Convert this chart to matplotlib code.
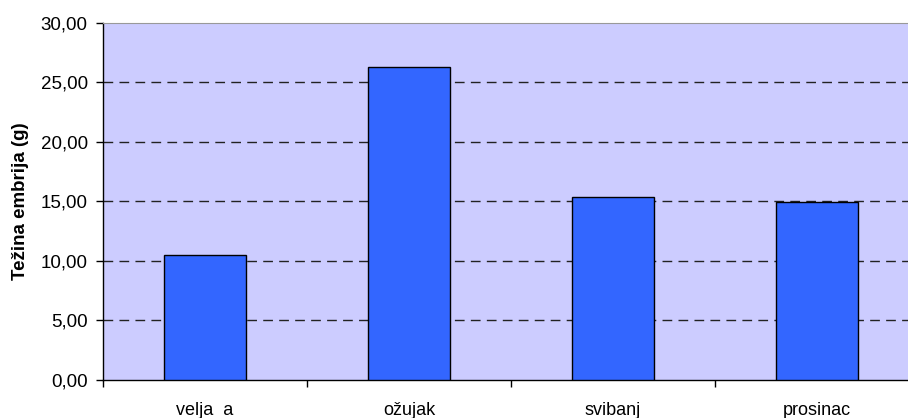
import numpy as np
import matplotlib.pyplot as plt
from matplotlib.ticker import FuncFormatter, FixedLocator

plt.rcParams['font.family'] = ['Liberation Sans', 'DejaVu Sans']

# data
months = ["velja  a", "ožujak", "svibanj", "prosinac"]
weights = [10.5, 26.28, 15.39, 14.97]
yticks = [0, 5, 10, 15, 20, 25, 30]

fig = plt.figure(figsize=(9.08, 4.18), dpi=100)
# plot area runs off the right edge like the original
ax = fig.add_axes([103 / 908, (418 - 380) / 418, 816 / 908, 357.5 / 418])

x = np.arange(len(months))
ax.set_facecolor("#CCCCFF")
ax.bar(x, weights, width=0.4, color="#3366FF", edgecolor="black", linewidth=1, zorder=3)

ax.set_xlim(-0.5, len(months) - 0.5)
ax.set_ylim(0, 30)
ax.set_yticks(yticks)
ax.yaxis.set_major_formatter(FuncFormatter(lambda v, p: f"{v:.2f}".replace(".", ",")))
for v in yticks[1:-1]:
    ax.axhline(v, color="#222222", linestyle=(0, (7, 4.5)), linewidth=1, zorder=1)

# boundaries get ticks, labels sit at the centres
ax.xaxis.set_major_locator(FixedLocator(np.arange(len(months) + 1) - 0.5))
ax.xaxis.set_major_formatter(FuncFormatter(lambda v, p: ""))
ax.xaxis.set_minor_locator(FixedLocator(x))
ax.set_xticklabels(months, minor=True)
ax.tick_params(axis="x", which="minor", length=0, pad=16, labelsize=13)
ax.tick_params(axis="x", which="major", length=5, width=1, direction="out")
ax.tick_params(axis="y", length=5, width=1, direction="out", pad=6, labelsize=13.5)

ax.spines["right"].set_visible(False)
ax.spines["top"].set_color("#999999")
ax.spines["left"].set_linewidth(1)
ax.spines["bottom"].set_linewidth(1)

ax.set_ylabel("Težina embrija (g)", fontsize=13.5, fontweight="bold", labelpad=8)

fig.savefig("out.png", dpi=100)
